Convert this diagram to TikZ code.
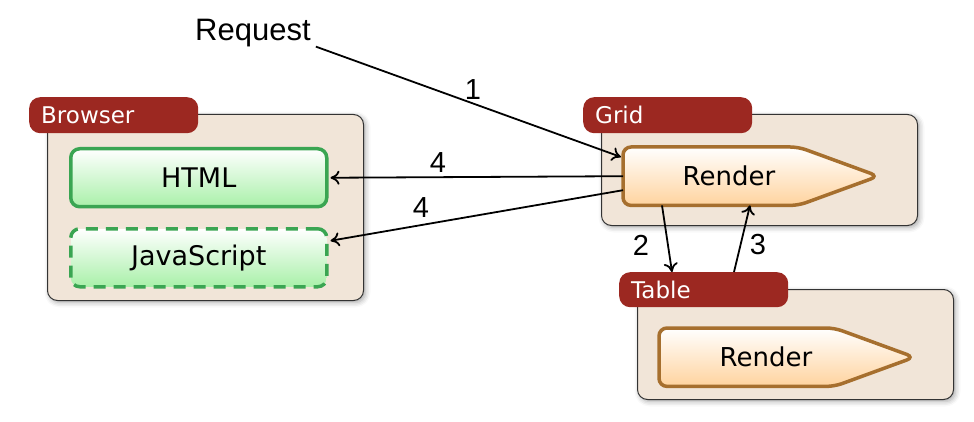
\documentclass[tikz,border=0pt]{standalone}
\usepackage{fontspec}
\setmainfont{Liberation Sans}
\newfontfamily\boxfont{DejaVu Sans}
\usetikzlibrary{shadows.blur,arrows.meta}
\definecolor{contfill}{HTML}{F1E5D8}
\definecolor{tagred}{HTML}{9C2821}
\definecolor{grnline}{HTML}{3AA552}
\definecolor{grnfill}{HTML}{A9F0A9}
\definecolor{brnline}{HTML}{A66F2E}
\definecolor{peach}{HTML}{FFD39E}
\begin{document}
\begin{tikzpicture}[x=1pt,y=-1pt,
  container/.style={draw=black!80, line width=1pt, fill=contfill, rounded corners=10pt, anchor=north west, inner sep=0pt,
    blur shadow={shadow xshift=2pt, shadow yshift=-2pt, shadow blur radius=5pt, shadow opacity=35}},
  tag/.style={fill=tagred, rounded corners=11pt, anchor=north west, text=white, font=\boxfont\fontsize{23}{23}\selectfont,
    align=left, text width=145pt, inner xsep=12pt, inner ysep=0pt, minimum height=36pt},
  greenbox/.style={draw=grnline, line width=3.5pt, rounded corners=9pt, top color=white, bottom color=grnfill, anchor=north west,
    minimum width=256pt, minimum height=58pt, inner sep=0pt, font=\boxfont\fontsize{27}{27}\selectfont},
  renderarea/.style={anchor=north west, minimum width=255pt, minimum height=58pt, inner sep=0pt},
  rendershape/.style={draw=brnline, line width=3.5pt, rounded corners=8pt, top color=white, bottom color=peach},
  rendertext/.style={font=\boxfont\fontsize{26}{26}\selectfont, inner sep=0pt},
  flow/.style={line width=1.8pt, -{To[length=9pt,width=14pt]}},
  num/.style={font=\fontsize{29}{29}\selectfont, inner sep=0pt},
]
\useasboundingbox (0,0) rectangle (974,422);

% containers
\node[container, minimum width=316pt, minimum height=186pt] (browser) at (47,114) {};
\node[container, minimum width=316pt, minimum height=111pt] (grid) at (601,114) {};
\node[container, minimum width=316pt, minimum height=110pt] (table) at (637,289) {};

% tags
\node[tag] (browsertag) at (29,97) {Browser};
\node[tag] (gridtag) at (583,97) {Grid};
\node[tag, minimum height=35pt] (tabletag) at (619,272) {Table};

% browser content
\node[greenbox] (html) at (69,147) {HTML};
\node[greenbox, dash pattern=on 12pt off 8pt] (js) at (69,227) {JavaScript};

% render shapes
\node[renderarea] (gridrender) at (623,147) {};
\path[rendershape] (gridrender.north west) -- ([xshift=-80pt]gridrender.north east) -- (gridrender.east)
  -- ([xshift=-80pt]gridrender.south east) -- (gridrender.south west) -- cycle;
\node[rendertext] (gridrendertext) at ([xshift=106pt]gridrender.west) {Render};

\node[renderarea] (tablerender) at (659,328) {};
\path[rendershape] (tablerender.north west) -- ([xshift=-80pt]tablerender.north east) -- (tablerender.east)
  -- ([xshift=-80pt]tablerender.south east) -- (tablerender.south west) -- cycle;
\node[rendertext] (tablerendertext) at ([xshift=107pt]tablerender.west) {Render};

% request
\node[anchor=base west, font=\fontsize{31}{31}\selectfont, inner sep=0pt] (req) at (195,41) {Request};

% connectors
\draw[flow] ([xshift=5pt,yshift=1pt]req.south east) -- ([xshift=-2pt,yshift=-10pt]gridrender.north west);
\draw[flow] (gridrender.west) -- ([xshift=2pt]html.east);
\draw[flow] ([yshift=-14pt]gridrender.west) -- ([xshift=2pt,yshift=17pt]js.east);
\draw[flow] ([xshift=39pt]gridrender.south west) -- ([xshift=53pt]tabletag.north west);
\draw[flow] ([xshift=115pt]tabletag.north west) -- ([xshift=127pt]gridrender.south west);

% numbers
\node[num] (n1) at (473,90) {1};
\node[num] (n4a) at (438,163) {4};
\node[num] (n4b) at (421,208) {4};
\node[num] (n2) at (641,245) {2};
\node[num] (n3) at (758,245) {3};
\end{tikzpicture}
\end{document}
